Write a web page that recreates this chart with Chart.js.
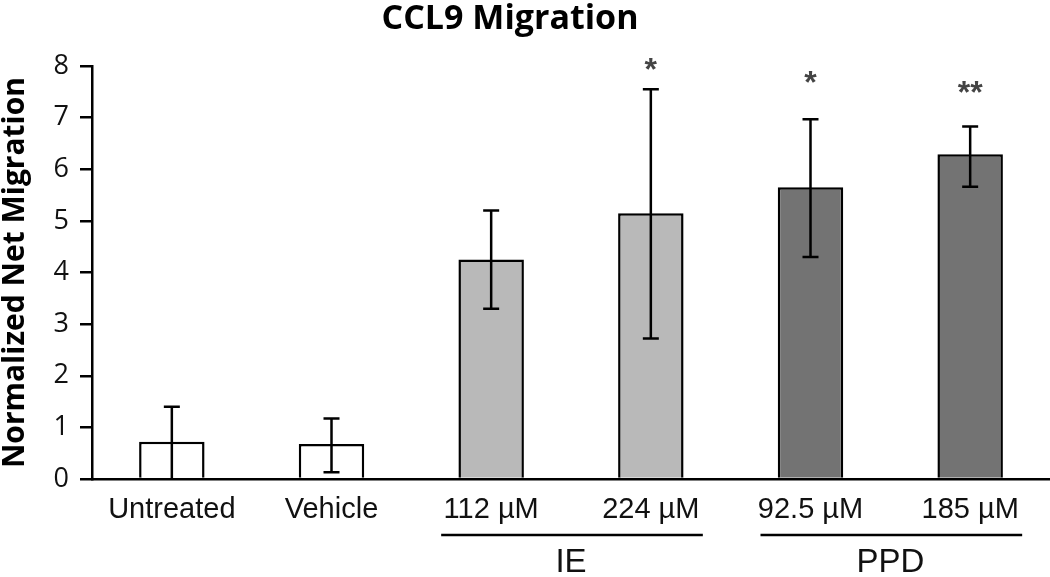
<!DOCTYPE html>
<html>
<head>
<meta charset="utf-8">
<script src="https://cdn.jsdelivr.net/npm/chart.js@4.4.1/dist/chart.umd.min.js"></script>
<style>
html, body { margin: 0; padding: 0; background: #fff; }
</style>
</head>
<body>
<canvas id="chart" width="1050" height="577"></canvas>
<script>
var labels = ['Untreated', 'Vehicle', '112 µM', '224 µM', '92.5 µM', '185 µM'];
var means = [0.72, 0.68, 4.25, 5.15, 5.65, 6.29];
var errLow = [0, 0.13, 3.30, 2.72, 4.30, 5.66];
var errHigh = [1.40, 1.17, 5.20, 7.55, 6.97, 6.83];
var barColors = ['#ffffff', '#ffffff', '#b9b9b9', '#b9b9b9', '#737373', '#737373'];
var stars = ['', '', '', '*', '*', '**'];
var starY = [0, 0, 0, 8.08, 7.83, 7.64];
var groupNames = ['IE', 'PPD'];
var groupFirst = [2, 4];
var groupLast = [3, 5];

var extras = {
    id: 'extras',
    afterDatasetsDraw: function (chart) {
        var ctx = chart.ctx;
        var x = chart.scales.x;
        var y = chart.scales.y;
        ctx.save();
        // error bars
        ctx.strokeStyle = '#000';
        ctx.lineWidth = 2.5;
        for (var i = 0; i < means.length; i++) {
            var px = x.getPixelForValue(i);
            var top = y.getPixelForValue(errHigh[i]);
            var low = y.getPixelForValue(errLow[i]);
            ctx.beginPath();
            ctx.moveTo(px, top);
            ctx.lineTo(px, low);
            ctx.moveTo(px - 8, top);
            ctx.lineTo(px + 8, top);
            if (errLow[i] > 0) {
                ctx.moveTo(px - 8, low);
                ctx.lineTo(px + 8, low);
            }
            ctx.stroke();
        }
        // significance stars
        ctx.fillStyle = '#444';
        ctx.font = 'bold 32px "Liberation Sans"';
        ctx.textAlign = 'center';
        ctx.textBaseline = 'alphabetic';
        for (var j = 0; j < stars.length; j++) {
            if (!stars[j]) continue;
            ctx.fillText(stars[j], x.getPixelForValue(j), y.getPixelForValue(starY[j]) + 18);
        }
        ctx.restore();
    },
    afterDraw: function (chart) {
        var ctx = chart.ctx;
        var x = chart.scales.x;
        ctx.save();
        // title
        ctx.fillStyle = '#000';
        ctx.font = 'bold 34px "Open Sans"';
        ctx.textAlign = 'center';
        ctx.textBaseline = 'alphabetic';
        ctx.fillText('CCL9 Migration', 510, 29);
        // group brackets
        ctx.strokeStyle = '#000';
        ctx.lineWidth = 2.5;
        ctx.fillStyle = '#111';
        ctx.font = '33px "Liberation Sans"';
        ctx.textBaseline = 'middle';
        for (var g = 0; g < groupNames.length; g++) {
            var a = x.getPixelForValue(groupFirst[g]);
            var b = x.getPixelForValue(groupLast[g]);
            ctx.beginPath();
            ctx.moveTo(a - 50, 535);
            ctx.lineTo(b + 52, 535);
            ctx.stroke();
            ctx.fillText(groupNames[g], (a + b) / 2, 563);
        }
        ctx.restore();
    }
};

new Chart(document.getElementById('chart').getContext('2d'), {
    type: 'bar',
    data: {
        labels: labels,
        datasets: [{
            data: means,
            backgroundColor: barColors,
            borderColor: '#000',
            borderWidth: 2.5,
            barPercentage: 0.41,
            categoryPercentage: 1
        }]
    },
    options: {
        responsive: false,
        animation: false,
        layout: { padding: { top: 66, left: 0, right: 0, bottom: 0 } },
        plugins: {
            legend: { display: false },
            tooltip: { enabled: false }
        },
        scales: {
            x: {
                grid: { display: false },
                border: { display: true, color: '#000', width: 2.5 },
                ticks: {
                    color: '#111',
                    font: { family: 'Liberation Sans', size: 29 },
                    maxRotation: 0,
                    autoSkip: false,
                    padding: 6
                },
                afterFit: function (scale) { scale.height = 98; }
            },
            y: {
                min: 0,
                max: 8,
                grid: { drawOnChartArea: false, drawTicks: true, tickLength: 12, color: '#000', lineWidth: 2.5 },
                border: { display: true, color: '#000', width: 2.5 },
                ticks: {
                    stepSize: 1,
                    color: '#111',
                    padding: 11,
                    font: { family: 'Open Sans', size: 27 }
                },
                title: {
                    display: true,
                    text: 'Normalized Net Migration',
                    color: '#000',
                    padding: 0,
                    font: { family: 'Open Sans', size: 30, weight: 'bold', lineHeight: 1 }
                },
                afterFit: function (scale) { scale.width = 92; }
            }
        }
    },
    plugins: [extras]
});
</script>
</body>
</html>
